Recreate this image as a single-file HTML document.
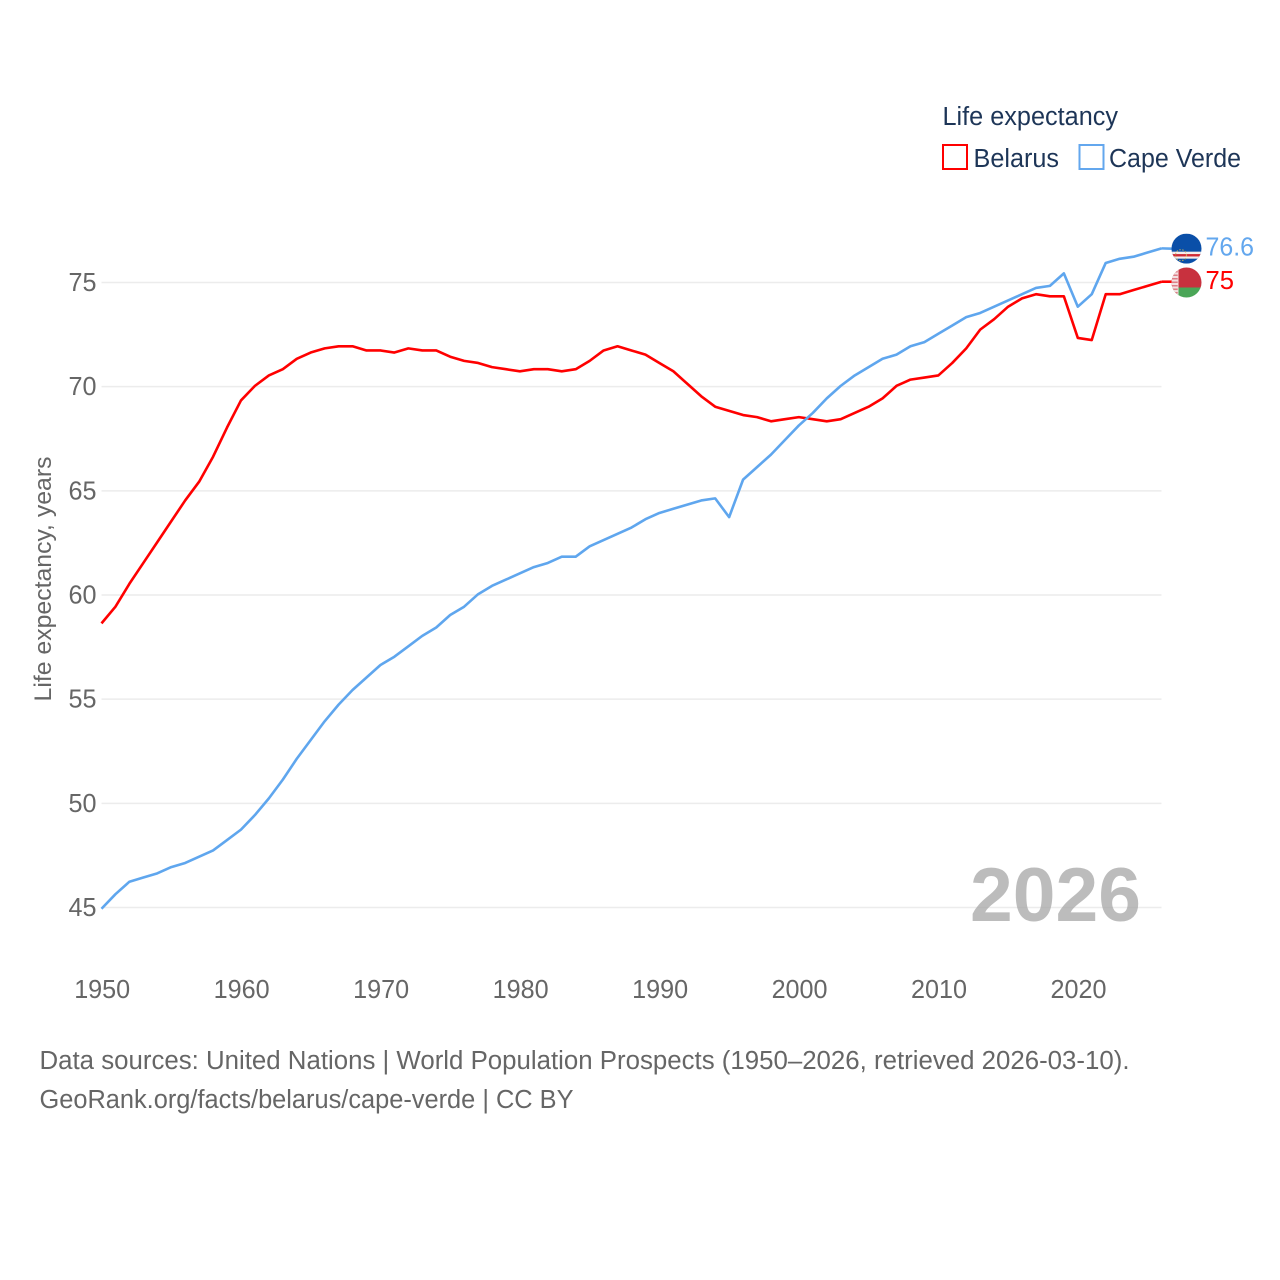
<!DOCTYPE html>
<html lang="en">
<head>
<meta charset="utf-8">
<title>Life expectancy: Belarus and Cape Verde</title>
<style>
html,body{margin:0;padding:0;background:#fff;width:1280px;height:1280px;overflow:hidden}
svg{display:block}
text{font-family:"Liberation Sans",sans-serif}
</style>
</head>
<body>
<svg id="chart" xmlns="http://www.w3.org/2000/svg" width="1280" height="1280" viewBox="0 0 1280 1280">
  <defs>
    <clipPath id="clip-cv"><circle id="clip-cv-circle" cx="1186.5" cy="248" r="15"></circle></clipPath>
    <clipPath id="clip-by"><circle id="clip-by-circle" cx="1186.5" cy="282" r="15"></circle></clipPath>
  </defs>
  <rect width="1280" height="1280" fill="#fff"></rect>
  <g id="grid"></g>
  <g id="yticks"></g>
  <g id="xticks"></g>
  <text transform="translate(51,579) rotate(-90)" text-anchor="middle" font-size="24.5" fill="#666" textLength="245" lengthAdjust="spacingAndGlyphs">Life expectancy, years</text>
  <g id="series"></g>
  <g id="end-labels"></g>
  <g>
    <text x="942.5" y="125" font-size="25.5" fill="#1d3557" textLength="175.5" lengthAdjust="spacingAndGlyphs">Life expectancy</text>
    <g>
      <rect x="943" y="145" width="24" height="24" fill="#fff" stroke="#ff0000" stroke-width="2"></rect>
      <text x="973.5" y="167" font-size="25.5" fill="#1d3557" textLength="85.5" lengthAdjust="spacingAndGlyphs">Belarus</text>
    </g>
    <g>
      <rect x="1079.5" y="145" width="24" height="24" fill="#fff" stroke="#63a7ee" stroke-width="2"></rect>
      <text x="1109" y="167" font-size="25.5" fill="#1d3557" textLength="132" lengthAdjust="spacingAndGlyphs">Cape Verde</text>
    </g>
  </g>
  <text x="970" y="921" font-size="76" font-weight="700" fill="#a6a6a6" fill-opacity="0.75" textLength="171" lengthAdjust="spacingAndGlyphs">2026</text>
  <text x="39.5" y="1069" font-size="25.5" fill="#666" textLength="1090" lengthAdjust="spacingAndGlyphs">Data sources: United Nations | World Population Prospects (1950–2026, retrieved 2026-03-10).</text>
  <text x="39.5" y="1108" font-size="25.5" fill="#666" textLength="534" lengthAdjust="spacingAndGlyphs">GeoRank.org/facts/belarus/cape-verde | CC BY</text>
</svg>
<script>
const startYear = 1950;
const yTicks = [45, 50, 55, 60, 65, 70, 75];
const xTicks = [1950, 1960, 1970, 1980, 1990, 2000, 2010, 2020];
const belarusValues = [58.6,59.4,60.5,61.5,62.5,63.5,64.5,65.4,66.6,68.0,69.3,70.0,70.5,70.8,71.3,71.6,71.8,71.9,71.9,71.7,71.7,71.6,71.8,71.7,71.7,71.4,71.2,71.1,70.9,70.8,70.7,70.8,70.8,70.7,70.8,71.2,71.7,71.9,71.7,71.5,71.1,70.7,70.1,69.5,69.0,68.8,68.6,68.5,68.3,68.4,68.5,68.4,68.3,68.4,68.7,69.0,69.4,70.0,70.3,70.4,70.5,71.1,71.8,72.7,73.2,73.8,74.2,74.4,74.3,74.3,72.3,72.2,74.4,74.4,74.6,74.8,75.0];
const capeVerdeValues = [44.9,45.6,46.2,46.4,46.6,46.9,47.1,47.4,47.7,48.2,48.7,49.4,50.2,51.1,52.1,53.0,53.9,54.7,55.4,56.0,56.6,57.0,57.5,58.0,58.4,59.0,59.4,60.0,60.4,60.7,61.0,61.3,61.5,61.8,61.8,62.3,62.6,62.9,63.2,63.6,63.9,64.1,64.3,64.5,64.6,63.7,65.5,66.1,66.7,67.4,68.1,68.7,69.4,70.0,70.5,70.9,71.3,71.5,71.9,72.1,72.5,72.9,73.3,73.5,73.8,74.1,74.4,74.7,74.8,75.4,73.8,74.4,75.9,76.1,76.2,76.4,76.6];

const NS = 'http://www.w3.org/2000/svg';
const xScale = function (year) { return 101.5 + (year - 1950) * (1060 / 76); };
const yScale = function (value) { return 907.5 - (value - 45) * (625 / 30); };
const lineOffsetY = -0.8;
const plotRight = xScale(startYear + belarusValues.length - 1);

function make(tag, attrs, parent, text) {
  const el = document.createElementNS(NS, tag);
  Object.keys(attrs).forEach(function (k) { el.setAttribute(k, attrs[k]); });
  if (text !== undefined) el.textContent = text;
  parent.appendChild(el);
  return el;
}

const grid = document.getElementById('grid');
const yG = document.getElementById('yticks');
const xG = document.getElementById('xticks');
const seriesG = document.getElementById('series');
const endG = document.getElementById('end-labels');

yTicks.forEach(function (t) {
  const line = make('line', {x1: 101.5, x2: plotRight, y1: yScale(t), y2: yScale(t), stroke: '#ececec', 'stroke-width': 1.5}, grid);
  
  
  const label = make('text', {x: 96.5, y: yScale(t) + 8.5, 'text-anchor': 'end', 'font-size': 25.5, fill: '#666', textLength: 28, lengthAdjust: 'spacingAndGlyphs'}, yG, String(t));
  
  
});

xTicks.forEach(function (t) {
  const label = make('text', {x: xScale(t) + 0.7, y: 998, 'text-anchor': 'middle', 'font-size': 25.5, fill: '#666', textLength: 56, lengthAdjust: 'spacingAndGlyphs'}, xG, String(t));
  
  
});

function linePoints(values) {
  return values.map(function (v, i) {
    return xScale(startYear + i).toFixed(2) + ',' + (yScale(v) + lineOffsetY).toFixed(2);
  }).join(' ');
}

const belarusLine = make('polyline', {points: linePoints(belarusValues), fill: 'none', stroke: '#ff0000', 'stroke-width': 2.6, 'stroke-linejoin': 'round'}, seriesG);



const capeLine = make('polyline', {points: linePoints(capeVerdeValues), fill: 'none', stroke: '#5fa6ee', 'stroke-width': 2.6, 'stroke-linejoin': 'round'}, seriesG);



const belarusLast = belarusValues[belarusValues.length - 1];
const capeLast = capeVerdeValues[capeVerdeValues.length - 1];
const byY = yScale(belarusLast);
const cvY = yScale(capeLast) - 0.5;
document.getElementById('clip-by-circle').setAttribute('cy', byY);
document.getElementById('clip-cv-circle').setAttribute('cy', cvY);

const byConn = make('line', {x1: plotRight, x2: 1172, y1: byY + lineOffsetY, y2: byY + lineOffsetY, stroke: '#ff0000', 'stroke-width': 2.6}, endG);


const cvConn = make('line', {x1: plotRight, x2: 1172, y1: yScale(capeLast) + lineOffsetY, y2: cvY, stroke: '#5fa6ee', 'stroke-width': 2.6}, endG);



/* Cape Verde flag */
const cvFlag = make('g', {'clip-path': 'url(#clip-cv)'}, endG);


make('rect', {x: 1171, y: cvY - 15, width: 31, height: 30, fill: '#0a4fa8'}, cvFlag);
make('rect', {x: 1171, y: cvY + 3, width: 31, height: 7, fill: '#f4eeee'}, cvFlag);
make('rect', {x: 1171, y: cvY + 5.4, width: 31, height: 2.4, fill: '#cf2b36'}, cvFlag);
make('circle', {cx: 1181, cy: cvY + 6.5, r: 5.5, fill: 'none', stroke: '#c9b25a', 'stroke-width': 1.2, 'stroke-dasharray': '1.5 1.5', opacity: 0.8}, cvFlag);

/* Belarus flag */
const byFlag = make('g', {'clip-path': 'url(#clip-by)'}, endG);


make('rect', {x: 1171, y: byY - 15, width: 31, height: 20, fill: '#c8313e'}, byFlag);
make('rect', {x: 1171, y: byY + 5, width: 31, height: 10, fill: '#4aa657'}, byFlag);
make('rect', {x: 1171, y: byY - 15, width: 7.5, height: 30, fill: '#f3dfe0'}, byFlag);
make('line', {x1: 1174.7, x2: 1174.7, y1: byY - 15, y2: byY + 15, stroke: '#c8313e', 'stroke-width': 6, 'stroke-dasharray': '1.5 2', opacity: 0.55}, byFlag);

const cvLabel = make('text', {x: 1205.5, y: cvY + 7, 'font-size': 25.5, fill: '#63a7ee', textLength: 48.5, lengthAdjust: 'spacingAndGlyphs'}, endG, String(capeLast));


const byLabel = make('text', {x: 1205.5, y: byY + 6.5, 'font-size': 25.5, fill: '#ff0000', textLength: 28.5, lengthAdjust: 'spacingAndGlyphs'}, endG, String(belarusLast));


</script>
</body>
</html>
